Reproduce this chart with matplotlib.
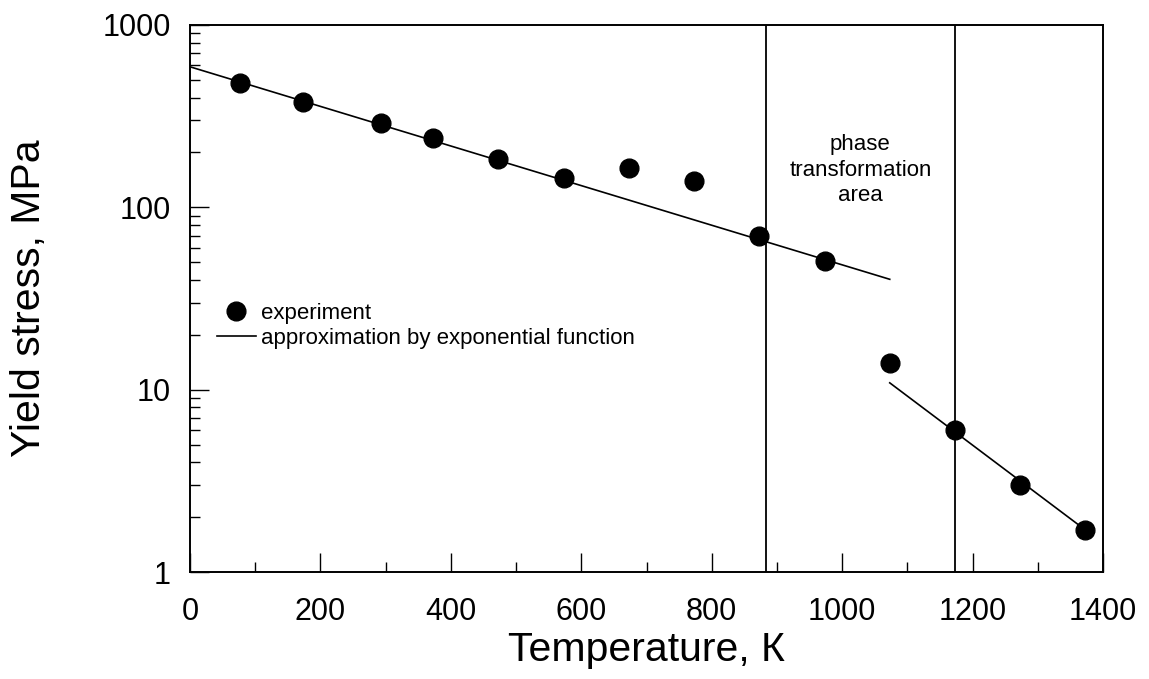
import matplotlib.pyplot as plt
from matplotlib.ticker import FixedLocator, LogLocator, NullFormatter, FixedFormatter

plt.rcParams['font.family'] = ['Liberation Sans', 'DejaVu Sans']

# measured yield stress vs temperature
temperature = [77, 173, 293, 373, 473, 573, 673, 773, 873, 973, 1073, 1173, 1273, 1373]
yield_stress = [482, 377, 289, 240, 185, 145, 165, 140, 70, 51, 14, 6.0, 3.0, 1.7]

# exponential fits (straight lines on the log axis), given by their end points
fit_low_T = [0, 1073]
fit_low_sigma = [590, 40.3]
fit_high_T = [1073, 1373]
fit_high_sigma = [10.9, 1.7]

# boundaries of the phase transformation range, K
phase_bounds = [883, 1173]

x_major = [0, 200, 400, 600, 800, 1000, 1200, 1400]
x_minor = [100, 300, 500, 700, 900, 1100, 1300]
y_major = [1, 10, 100, 1000]
y_labels = ['1', '10', '100', '1000']

fig = plt.figure(figsize=(11.49, 6.79), dpi=100)
ax = fig.add_axes([190 / 1149, 1 - 572 / 679, 913 / 1149, 547 / 679])

for T in phase_bounds:
    ax.axvline(T, color='black', lw=1.3)

ax.plot(temperature, yield_stress, 'o', color='black', ms=13.5, label='experiment')
ax.plot(fit_low_T, fit_low_sigma, '-', color='black', lw=1.2,
        label='approximation by exponential function')
ax.plot(fit_high_T, fit_high_sigma, '-', color='black', lw=1.2)

ax.text((phase_bounds[0] + phase_bounds[1]) / 2, 160, 'phase\ntransformation\narea',
        ha='center', va='center', fontsize=16, linespacing=1.27)

ax.set_yscale('log')
ax.set_xlim(0, 1400)
ax.set_ylim(1, 1000)

ax.xaxis.set_major_locator(FixedLocator(x_major))
ax.xaxis.set_minor_locator(FixedLocator(x_minor))
ax.yaxis.set_major_locator(FixedLocator(y_major))
ax.yaxis.set_major_formatter(FixedFormatter(y_labels))
ax.yaxis.set_minor_locator(LogLocator(base=10, subs=range(2, 10)))
ax.yaxis.set_minor_formatter(NullFormatter())

ax.tick_params(which='both', direction='in', top=False, right=False, width=1.0)
ax.tick_params(which='major', length=13.5, labelsize=22)
ax.tick_params(axis='x', which='major', pad=18)
ax.tick_params(axis='y', which='major', pad=14)
ax.tick_params(which='minor', length=7)

for s in ax.spines.values():
    s.set_linewidth(1.4)

ax.set_xlabel('Temperature, К', fontsize=29.5)
ax.set_ylabel('Yield stress, MPa', fontsize=29.5)
ax.xaxis.set_label_coords(0.5, -0.108)
ax.yaxis.set_label_coords(-0.155, 0.5)

ax.legend(loc='center left', bbox_to_anchor=(0.0296, 0.45), frameon=False,
          fontsize=16, handlelength=1.75, handletextpad=0.25, labelspacing=0.15,
          borderpad=0, borderaxespad=0, numpoints=1)

fig.savefig('out.png', dpi=100)
